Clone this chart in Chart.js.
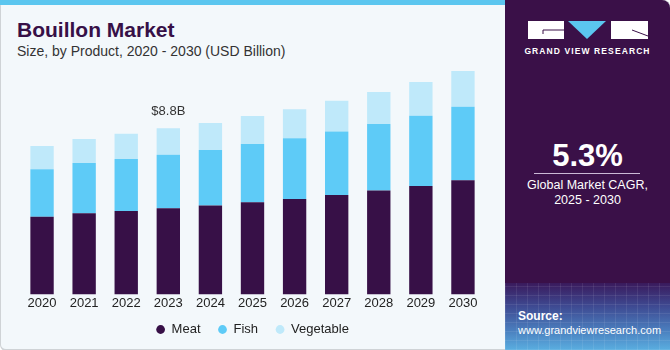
<!DOCTYPE html>
<html>
<head>
<meta charset="utf-8">
<script src="https://cdn.jsdelivr.net/npm/chart.js@4.4.1/dist/chart.umd.min.js"></script>
<style>
  html, body { margin: 0; padding: 0; background: #ffffff; }
  body { width: 670px; height: 350px; position: relative; overflow: hidden; font-family: "Liberation Sans", Arial, sans-serif; }
  .card { position: absolute; left: 0; top: 0; width: 668px; height: 348px; background: #f3f8fb;
          border: 1px solid #cfd3d6; border-bottom-width: 2px; border-radius: 6px; overflow: hidden; }
  .stripe { position: absolute; left: 0; top: 0; width: 505px; height: 5px; background: #5bc6ef; }
  .title { position: absolute; left: 17px; top: 18px; font-size: 21px; font-weight: bold; color: #371047; }
  .subtitle { position: absolute; left: 17px; top: 43px; font-size: 14px; color: #333333; }
  .panel { position: absolute; left: 505px; top: 0; width: 165px; height: 350px; background: #3a1048; border-top-right-radius: 8px; overflow: hidden; }
  .panel .foot { position: absolute; left: 0; top: 283px; width: 165px; height: 67px;
          background:
            repeating-linear-gradient(90deg, rgba(255,255,255,0.08) 0 1px, transparent 1px 11px),
            repeating-linear-gradient(0deg, rgba(255,255,255,0.08) 0 1px, transparent 1px 9px),
            linear-gradient(to bottom, #3a1a5c 0%, #3e4a92 35%, #4a7dbd 70%, #5aaee0 100%); }
  .brand { position: absolute; left: 0; width: 165px; top: 46px; text-align: center; color: #ffffff; font-size: 8.5px; font-weight: bold; letter-spacing: 1.1px; }
  .big { position: absolute; left: 0; width: 165px; top: 138px; text-align: center; color: #ffffff; font-size: 31px; font-weight: bold; }
  .rule { position: absolute; left: 29px; width: 106px; top: 173px; height: 1px; background: #cbb9d6; }
  .cagr { position: absolute; left: 0; width: 165px; top: 178px; text-align: center; color: #ffffff; font-size: 12.5px; line-height: 15px; }
  .src { position: absolute; left: 13px; top: 309px; color: #ffffff; font-size: 11px; line-height: 14px; }
  #wrap { position: absolute; left: 0; top: 0; width: 505px; height: 350px; }
</style>
</head>
<body>
<div class="card"></div>
<div class="stripe"></div>
<div class="title">Bouillon Market</div>
<div class="subtitle">Size, by Product, 2020 - 2030 (USD Billion)</div>
<div class="panel">
  <svg style="position:absolute;left:0;top:0" width="165" height="45">
    <rect x="23" y="21" width="36" height="18" fill="#ffffff"/>
    <polyline points="38,34 38,30 59,30" fill="none" stroke="#3a1048" stroke-width="1"/>
    <polygon points="63,21 101,21 82,39" fill="#5bc6ef"/>
    <rect x="106" y="21" width="37" height="18" fill="#ffffff"/>
    <line x1="127" y1="30" x2="143" y2="36" stroke="#3a1048" stroke-width="1"/>
  </svg>
  <div class="brand">GRAND VIEW RESEARCH</div>
  <div class="big">5.3%</div>
  <div class="rule"></div>
  <div class="cagr">Global Market CAGR,<br>2025 - 2030</div>
  <div class="foot"></div>
  <div class="src"><b style="font-size:12px">Source:</b><br>www.grandviewresearch.com</div>
</div>
<div id="wrap"><canvas id="myChart"></canvas></div>
<script>
const years = ['2020', '2021', '2022', '2023', '2024', '2025', '2026', '2027', '2028', '2029', '2030'];
const meat = [4.11, 4.30, 4.42, 4.57, 4.71, 4.89, 5.06, 5.27, 5.51, 5.75, 6.05];
const fish = [2.53, 2.67, 2.76, 2.83, 2.95, 3.08, 3.22, 3.37, 3.52, 3.72, 3.89];
const vegetable = [1.22, 1.27, 1.33, 1.40, 1.43, 1.49, 1.54, 1.63, 1.70, 1.79, 1.90];
const calloutYear = '2023';
const calloutText = '$8.8B';

// label over the 2023 bar
const callout = {
  id: 'callout',
  afterDatasetsDraw(chart) {
    const i = years.indexOf(calloutYear);
    const last = chart.getDatasetMeta(chart.data.datasets.length - 1).data[i];
    const ctx = chart.ctx;
    ctx.save();
    ctx.font = '13px "Liberation Sans", Arial, sans-serif';
    ctx.fillStyle = '#333333';
    ctx.textAlign = 'center';
    ctx.textBaseline = 'middle';
    ctx.fillText(calloutText, last.x, last.y - 17);
    ctx.restore();
  }
};

let chart1 = document.getElementById('myChart').getContext('2d');
let config1 = {
  type: 'bar',
  data: {
    labels: years,
    datasets: [
      { label: 'Meat', data: meat, backgroundColor: '#371047' },
      { label: 'Fish', data: fish, backgroundColor: '#5ecbf7' },
      { label: 'Vegetable', data: vegetable, backgroundColor: '#bfe9fa' }
    ]
  },
  options: {
    responsive: true,
    maintainAspectRatio: false,
    animation: false,
    layout: { padding: { left: 21, right: 21, top: 68, bottom: 4 } },
    datasets: { bar: { categoryPercentage: 1, barPercentage: 0.555 } },
    scales: {
      x: {
        stacked: true,
        grid: { display: false, drawTicks: false },
        border: { display: false },
        ticks: { color: '#222222', padding: 1, font: { size: 13, family: '"Liberation Sans", Arial, sans-serif' } }
      },
      y: { stacked: true, display: false, min: 0, max: 12 }
    },
    plugins: {
      tooltip: { enabled: false },
      legend: {
        position: 'bottom',
        labels: {
          usePointStyle: true, pointStyle: 'circle', boxWidth: 9, boxHeight: 6.2, padding: 11,
          color: '#222222', font: { size: 13, family: '"Liberation Sans", Arial, sans-serif' },
          // keep the gap between items while the vertical padding stays small
          generateLabels(chart) {
            const items = Chart.defaults.plugins.legend.labels.generateLabels(chart);
            items.forEach((it, k) => { if (k < items.length - 1) it.text = it.text + '\u2002'; });
            return items;
          }
        }
      }
    }
  },
  plugins: [callout]
};
let chartBouillon = new Chart(chart1, config1);
</script>
</body>
</html>
